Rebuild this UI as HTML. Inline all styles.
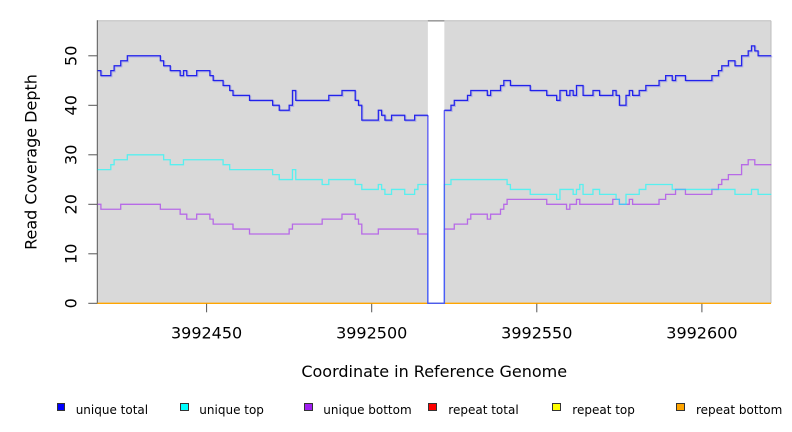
<!DOCTYPE html>
<html>
<head>
<meta charset="utf-8">
<style>
  html, body { margin: 0; padding: 0; background: #ffffff; }
  body { width: 792px; height: 432px; overflow: hidden; }
  svg { display: block; }
  text { font-family: "DejaVu Sans", "Liberation Sans", sans-serif; fill: #000; }
</style>
</head>
<body>
<svg width="792" height="432" viewBox="0 0 792 432" xmlns="http://www.w3.org/2000/svg">
  <rect x="0" y="0" width="792" height="432" fill="#ffffff"/>
  <!-- plot background -->
  <rect x="97.3" y="20.7" width="673.7" height="282.6" fill="#d9d9d9"/>
  <!-- gap -->
  <rect x="427.85" y="20.7" width="16.5" height="282.6" fill="#ffffff"/>
  <!-- box -->
  <line x1="97.3" y1="20.7" x2="771" y2="20.7" stroke="#bdbdbd" stroke-width="1"/>
  <line x1="427.85" y1="20.9" x2="444.35" y2="20.9" stroke="#8a8a8a" stroke-width="1.2"/>
  <line x1="771" y1="20.7" x2="771" y2="303.3" stroke="#bdbdbd" stroke-width="1"/>
  <line x1="97.3" y1="20.2" x2="97.3" y2="303.8" stroke="#555555" stroke-width="1"/>

  <!-- repeat lines at zero -->
  <line x1="97.3" y1="303.3" x2="771" y2="303.3" stroke="#ffa500" stroke-width="1.4"/>

  <!-- unique series in data coords -->
  <g transform="translate(97.6,303.3) scale(3.3025,-4.95)" fill="none">
    <path vector-effect="non-scaling-stroke" stroke="#a020f0" stroke-opacity="0.6" stroke-width="1.3"
      d="M0 20 H1 V19 H7 V20 H19 V19 H25 V18 H27 V17 H30 V18 H34 V17 H35 V16 H41 V15 H46 V14 H58 V15 H59 V16 H68 V17 H74 V18 H78 V17 H79 V16 H80 V14 H85 V15 H97 V14 H100 V0 H105 V15 H108 V16 H112 V17 H113 V18 H118 V17 H119 V18 H122 V19 H123 V20 H124 V21 H136 V20 H142 V19 H143 V20 H145 V21 H146 V20 H156 V21 H158 V20 H161 V21 H162 V20 H170 V21 H172 V22 H175 V23 H178 V22 H186 V23 H188 V24 H189 V25 H191 V26 H195 V28 H197 V29 H199 V28 H204"/>
    <path vector-effect="non-scaling-stroke" stroke="#00ffff" stroke-opacity="0.6" stroke-width="1.3"
      d="M0 27 H4 V28 H5 V29 H9 V30 H20 V29 H22 V28 H26 V29 H38 V28 H40 V27 H53 V26 H55 V25 H59 V27 H60 V25 H68 V24 H70 V25 H78 V24 H80 V23 H85 V24 H86 V23 H87 V22 H89 V23 H93 V22 H96 V23 H97 V24 H100 V0 H105 V24 H107 V25 H124 V24 H125 V23 H131 V22 H139 V21 H140 V23 H144 V22 H145 V23 H146 V24 H147 V22 H150 V23 H152 V22 H157 V21 H158 V20 H160 V22 H164 V23 H166 V24 H174 V23 H193 V22 H198 V23 H200 V22 H204"/>
  </g>
  <g transform="translate(1,1)">
    <g transform="translate(97.6,303.3) scale(3.3025,-4.95)" fill="none">
      <path vector-effect="non-scaling-stroke" stroke="#6a6af0" stroke-opacity="0.35" stroke-width="1.4"
        d="M0 47 H1 V46 H4 V47 H5 V48 H7 V49 H9 V50 H19 V49 H20 V48 H22 V47 H25 V46 H26 V47 H27 V46 H30 V47 H34 V46 H35 V45 H38 V44 H40 V43 H41 V42 H46 V41 H53 V40 H55 V39 H58 V40 H59 V43 H60 V41 H70 V42 H74 V43 H78 V41 H79 V40 H80 V37 H85 V39 H86 V38 H87 V37 H89 V38 H93 V37 H96 V38 H100 M105 39 H107 V40 H108 V41 H112 V42 H113 V43 H118 V42 H119 V43 H122 V44 H123 V45 H125 V44 H131 V43 H136 V42 H139 V41 H140 V43 H142 V42 H143 V43 H144 V42 H145 V44 H147 V42 H150 V43 H152 V42 H156 V43 H157 V42 H158 V40 H160 V42 H161 V43 H162 V42 H164 V43 H166 V44 H170 V45 H172 V46 H174 V45 H175 V46 H178 V45 H186 V46 H188 V47 H189 V48 H191 V49 H193 V48 H195 V50 H197 V51 H198 V52 H199 V51 H200 V50 H204"/>
    </g>
  </g>
  <g transform="translate(97.6,303.3) scale(3.3025,-4.95)" fill="none">
    <!-- gap drop segments lighter -->
    <path vector-effect="non-scaling-stroke" stroke="#4a4af5" stroke-opacity="0.85" stroke-width="1.4"
      d="M100 38 V0 H105 V39"/>
    <path vector-effect="non-scaling-stroke" stroke="#1414ee" stroke-opacity="0.92" stroke-width="1.25"
      d="M0 47 H1 V46 H4 V47 H5 V48 H7 V49 H9 V50 H19 V49 H20 V48 H22 V47 H25 V46 H26 V47 H27 V46 H30 V47 H34 V46 H35 V45 H38 V44 H40 V43 H41 V42 H46 V41 H53 V40 H55 V39 H58 V40 H59 V43 H60 V41 H70 V42 H74 V43 H78 V41 H79 V40 H80 V37 H85 V39 H86 V38 H87 V37 H89 V38 H93 V37 H96 V38 H100 M105 39 H107 V40 H108 V41 H112 V42 H113 V43 H118 V42 H119 V43 H122 V44 H123 V45 H125 V44 H131 V43 H136 V42 H139 V41 H140 V43 H142 V42 H143 V43 H144 V42 H145 V44 H147 V42 H150 V43 H152 V42 H156 V43 H157 V42 H158 V40 H160 V42 H161 V43 H162 V42 H164 V43 H166 V44 H170 V45 H172 V46 H174 V45 H175 V46 H178 V45 H186 V46 H188 V47 H189 V48 H191 V49 H193 V48 H195 V50 H197 V51 H198 V52 H199 V51 H200 V50 H204"/>
  </g>

  <!-- y ticks -->
  <g stroke="#555555" stroke-width="1">
    <line x1="88.3" y1="303.3" x2="97.3" y2="303.3"/>
    <line x1="88.3" y1="253.8" x2="97.3" y2="253.8"/>
    <line x1="88.3" y1="204.3" x2="97.3" y2="204.3"/>
    <line x1="88.3" y1="154.8" x2="97.3" y2="154.8"/>
    <line x1="88.3" y1="105.3" x2="97.3" y2="105.3"/>
    <line x1="88.3" y1="55.8" x2="97.3" y2="55.8"/>
  </g>
  <g font-size="16" text-anchor="middle">
    <text transform="translate(76.3,303.3) rotate(-90)">0</text>
    <text transform="translate(76.3,253.8) rotate(-90)">10</text>
    <text transform="translate(76.3,204.3) rotate(-90)">20</text>
    <text transform="translate(76.3,154.8) rotate(-90)">30</text>
    <text transform="translate(76.3,105.3) rotate(-90)">40</text>
    <text transform="translate(76.3,55.8) rotate(-90)">50</text>
  </g>
  <text font-size="16" text-anchor="middle" transform="translate(36.7,162) rotate(-90)">Read Coverage Depth</text>

  <!-- x ticks -->
  <g stroke="#555555" stroke-width="1">
    <line x1="206.6" y1="303.8" x2="206.6" y2="312.3"/>
    <line x1="371.7" y1="303.8" x2="371.7" y2="312.3"/>
    <line x1="536.8" y1="303.8" x2="536.8" y2="312.3"/>
    <line x1="701.9" y1="303.8" x2="701.9" y2="312.3"/>
  </g>
  <g font-size="16" text-anchor="middle">
    <text x="206.6" y="338.3">3992450</text>
    <text x="371.7" y="338.3">3992500</text>
    <text x="536.8" y="338.3">3992550</text>
    <text x="701.9" y="338.3">3992600</text>
  </g>
  <text x="434.2" y="377" font-size="16" text-anchor="middle">Coordinate in Reference Genome</text>

  <!-- legend -->
  <g stroke="#333333" stroke-width="1">
    <rect x="57.5" y="403.5" width="7" height="7" fill="#0000ff"/>
    <rect x="180.5" y="403.5" width="8" height="7" fill="#00ffff"/>
    <rect x="304.5" y="403.5" width="8" height="7" fill="#a020f0"/>
    <rect x="428.5" y="403.5" width="8" height="7" fill="#ff0000"/>
    <rect x="552.5" y="403.5" width="8" height="7" fill="#ffff00"/>
    <rect x="676.5" y="403.5" width="8" height="7" fill="#ffa500"/>
  </g>
  <g font-size="12">
    <text x="75.7" y="414">unique total</text>
    <text x="199.3" y="414">unique top</text>
    <text x="323.3" y="414">unique bottom</text>
    <text x="448.3" y="414">repeat total</text>
    <text x="572.3" y="414">repeat top</text>
    <text x="696" y="414">repeat bottom</text>
  </g>
</svg>
</body>
</html>
